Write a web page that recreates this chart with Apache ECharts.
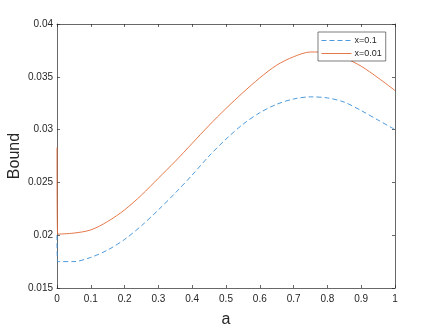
<!DOCTYPE html>
<html>
<head>
    <meta charset="UTF-8">
    <title>Bound</title>
    <script src="https://cdn.jsdelivr.net/npm/echarts@6/dist/echarts.min.js"></script>
    <style>
        html, body { margin: 0; padding: 0; background: #fff; }
        #main { width: 436px; height: 327px; }
    </style>
</head>
<body>
<div id="main"></div>
<script type="text/javascript">
    // 横轴 a
    var aVals = [0, 0.002, 0.05, 0.1, 0.15, 0.2, 0.25, 0.3, 0.35, 0.4, 0.45, 0.5,
        0.55, 0.6, 0.65, 0.7, 0.75, 0.8, 0.85, 0.9, 0.95, 1];
    // x=0.1 曲线
    var boundX01 = [0.0200, 0.0175, 0.0175, 0.0179, 0.0186, 0.0196, 0.0209, 0.0224, 0.0240, 0.0257, 0.0275, 0.0291,
        0.0305, 0.0316, 0.0324, 0.0329, 0.0331, 0.0330, 0.0326, 0.0318, 0.0309, 0.0300];
    // x=0.01 曲线
    var boundX001 = [0.0283, 0.0201, 0.0202, 0.0205, 0.0213, 0.0224, 0.0238, 0.0254, 0.0270, 0.0287, 0.0304, 0.0320,
        0.0335, 0.0349, 0.0361, 0.0369, 0.03735, 0.0373, 0.0368, 0.0360, 0.0349, 0.0337];
    var seriesNames = ['x=0.1', 'x=0.01'];
    var yTicks = [0.015, 0.02, 0.025, 0.03, 0.035, 0.04];

    function pairs(xs, ys) {
        return xs.map(function (x, i) { return [x, ys[i]]; });
    }

    var axisColor = '#262626';
    var fontFam = 'Liberation Sans, Arial, sans-serif';
    var tickFont = {color: axisColor, fontSize: 10, fontFamily: fontFam};

    var myChart = echarts.init(document.getElementById('main'));

    var option = {
        animation: false,
        backgroundColor: '#fff',
        grid: {left: 57, right: 41, top: 24, bottom: 39, containLabel: false, outerBoundsMode: 'none'},
        legend: {
            data: seriesNames,
            orient: 'vertical',
            left: 318,
            top: 32,
            itemWidth: 30,
            itemHeight: 9,
            itemGap: 4,
            padding: [4, 4, 3, 3],
            borderColor: '#262626',
            borderWidth: 0.6,
            backgroundColor: '#fff',
            itemStyle: {opacity: 0},
            lineStyle: {width: 0.9},
            textStyle: {color: axisColor, fontSize: 9, fontFamily: fontFam, padding: [0, 0, 0, -2]}
        },
        xAxis: [{
            type: 'value', min: 0, max: 1, interval: 0.1,
            name: 'a', nameLocation: 'middle', nameGap: 24, nameMoveOverlap: false,
            nameTextStyle: {color: axisColor, fontSize: 16, fontFamily: fontFam},
            axisLine: {lineStyle: {color: axisColor, width: 0.7}},
            axisTick: {inside: true, length: 3, lineStyle: {color: axisColor, width: 0.7}},
            axisLabel: {margin: 6, formatter: function (v) { return String(+v.toFixed(1)); }, ...tickFont},
            splitLine: {show: false}
        }, {
            type: 'value', min: 0, max: 1, interval: 0.1, position: 'top',
            axisLine: {onZero: false, lineStyle: {color: axisColor, width: 0.7}},
            axisTick: {inside: true, length: 3, lineStyle: {color: axisColor, width: 0.7}},
            axisLabel: {show: false},
            splitLine: {show: false}
        }],
        yAxis: [{
            type: 'value', min: yTicks[0], max: yTicks[yTicks.length - 1], interval: 0.005,
            name: 'Bound', nameLocation: 'middle', nameGap: 34, nameMoveOverlap: false,
            nameTextStyle: {color: axisColor, fontSize: 16, fontFamily: fontFam},
            axisLine: {show: true, onZero: false, lineStyle: {color: axisColor, width: 0.7}},
            axisTick: {show: true, inside: true, length: 3, lineStyle: {color: axisColor, width: 0.7}},
            axisLabel: {margin: 4, formatter: function (v) { return String(+v.toFixed(3)); }, ...tickFont},
            splitLine: {show: false}
        }, {
            type: 'value', min: yTicks[0], max: yTicks[yTicks.length - 1], interval: 0.005, position: 'right',
            axisLine: {show: true, onZero: false, lineStyle: {color: axisColor, width: 0.7}},
            axisTick: {show: true, inside: true, length: 3, lineStyle: {color: axisColor, width: 0.7}},
            axisLabel: {show: false},
            splitLine: {show: false}
        }],
        series: [
            {
                name: seriesNames[0],
                type: 'line',
                data: pairs(aVals, boundX01),
                symbol: 'none',
                smooth: 0.3,
                itemStyle: {color: '#3a8fd6'},
                lineStyle: {color: '#3a8fd6', width: 0.9, type: [5, 3]}
            },
            {
                name: seriesNames[1],
                type: 'line',
                data: pairs(aVals, boundX001),
                symbol: 'none',
                smooth: 0.3,
                itemStyle: {color: '#e26a36'},
                lineStyle: {color: '#e26a36', width: 0.9}
            }
        ]
    };

    myChart.setOption(option);
</script>
</body>
</html>
